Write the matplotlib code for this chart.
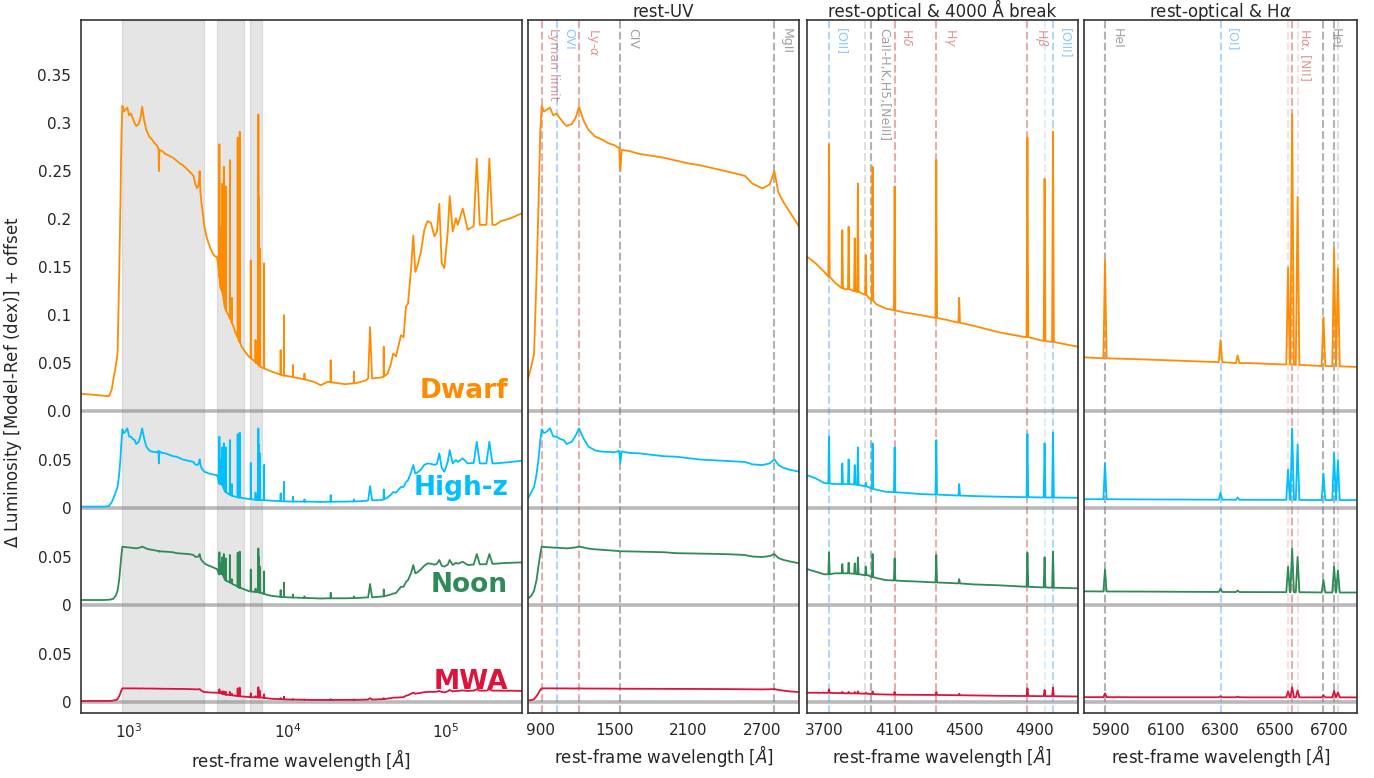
import numpy as np
import matplotlib
matplotlib.use("Agg")
import matplotlib.pyplot as plt
import matplotlib.transforms as mtransforms
import seaborn as sns

sns.set_theme(style="white", context="notebook")
plt.rcParams["font.family"] = ["DejaVu Sans"]
plt.rcParams["xtick.major.size"] = 3.5
plt.rcParams["ytick.major.size"] = 3.5

# ---------------- data ----------------
models = ["Dwarf", "High-z", "Noon", "MWA"]
model_colors = ["darkorange", "deepskyblue", "seagreen", "crimson"]

# continuum sampling wavelengths [Angstrom]
cont_wl = [
    500, 600, 700, 750, 780, 800, 830, 850, 870, 885,
    900, 912, 930, 952, 979, 1006, 1033, 1060, 1090, 1114,
    1155, 1185, 1215, 1250, 1291, 1345, 1400, 1453, 1500, 1540,
    1549, 1560, 1620, 1700, 1800, 1900, 2000, 2100, 2200, 2300,
    2400, 2500, 2560, 2620, 2700, 2760, 2798, 2830, 2870, 2920,
    3000, 3100, 3200, 3300, 3400, 3500, 3600, 3650, 3700, 3760,
    3820, 3900, 3950, 4000, 4050, 4150, 4250, 4400, 4550, 4700,
    4850, 5000, 5150, 5400, 5700, 5800, 6000, 6200, 6400, 6600,
    6800, 7000, 7500, 8000, 8700, 10000, 12000, 14700, 16200, 18000,
    20000, 23000, 27700, 31300, 32300, 33200, 34200, 39000, 42850, 45000,
    46500, 48400, 52000, 54000, 55900, 57600, 60150, 62200, 64000, 66000,
    69300, 73000, 76600, 80400, 84500, 87700, 90750, 93900, 97600, 102500,
    105500, 110200, 115500, 118500, 127500, 137000, 147300, 149500, 156300, 163200,
    170000, 179700, 187600, 196100, 205000, 222400, 257000, 300000,
]

dwarf_cont = [
    0.018, 0.017, 0.016, 0.0155, 0.022, 0.033, 0.048, 0.060, 0.140, 0.210,
    0.290, 0.318, 0.312, 0.314, 0.316, 0.308, 0.310, 0.305, 0.300, 0.297,
    0.299, 0.305, 0.317, 0.303, 0.293, 0.286, 0.283, 0.279, 0.277, 0.274,
    0.250, 0.272, 0.271, 0.268, 0.266, 0.264, 0.261, 0.258, 0.256, 0.253,
    0.250, 0.247, 0.245, 0.237, 0.232, 0.236, 0.250, 0.228, 0.218, 0.208,
    0.192, 0.181, 0.174, 0.168, 0.164, 0.161, 0.161, 0.154, 0.145, 0.134,
    0.127, 0.124, 0.119, 0.111, 0.107, 0.103, 0.100, 0.095, 0.089, 0.082,
    0.077, 0.072, 0.067, 0.062, 0.057, 0.056, 0.054, 0.052, 0.050, 0.048,
    0.046, 0.045, 0.043, 0.041, 0.039, 0.0365, 0.034, 0.0305, 0.027, 0.0305,
    0.0295, 0.028, 0.0295, 0.032, 0.034, 0.0875, 0.034, 0.035, 0.039, 0.0497,
    0.060, 0.057, 0.079, 0.077, 0.109, 0.112, 0.147, 0.183, 0.145, 0.151,
    0.165, 0.189, 0.198, 0.196, 0.182, 0.187, 0.216, 0.154, 0.149, 0.186,
    0.224, 0.187, 0.201, 0.194, 0.211, 0.189, 0.192, 0.193, 0.263, 0.194,
    0.194, 0.194, 0.263, 0.194, 0.194, 0.198, 0.201, 0.206,
]

highz_cont = [
    0.0015, 0.0015, 0.0015, 0.002, 0.006, 0.010, 0.017, 0.022, 0.035, 0.050,
    0.070, 0.082, 0.078, 0.0795, 0.083, 0.0745, 0.0743, 0.072, 0.0708, 0.0667,
    0.069, 0.075, 0.083, 0.0726, 0.064, 0.060, 0.0587, 0.0585, 0.058, 0.0595,
    0.0465, 0.059, 0.0575, 0.057, 0.0555, 0.054, 0.0535, 0.052, 0.0505, 0.0498,
    0.049, 0.0485, 0.048, 0.0455, 0.0448, 0.0465, 0.0507, 0.045, 0.042, 0.040,
    0.0378, 0.037, 0.036, 0.0355, 0.035, 0.0345, 0.0344, 0.031, 0.026, 0.025,
    0.025, 0.024, 0.022, 0.019, 0.017, 0.016, 0.0146, 0.0135, 0.0125, 0.0118,
    0.0113, 0.011, 0.0107, 0.0100, 0.0095, 0.0092, 0.009, 0.0088, 0.0086, 0.0084,
    0.0083, 0.0082, 0.008, 0.0076, 0.0072, 0.0068, 0.0067, 0.0066, 0.0064, 0.0066,
    0.0066, 0.0067, 0.007, 0.0075, 0.008, 0.0229, 0.008, 0.0083, 0.011, 0.014,
    0.0167, 0.016, 0.022, 0.022, 0.027, 0.029, 0.037, 0.0448, 0.036, 0.037,
    0.040, 0.045, 0.0465, 0.046, 0.045, 0.046, 0.057, 0.042, 0.0378, 0.048,
    0.0604, 0.0465, 0.050, 0.048, 0.0517, 0.0465, 0.047, 0.047, 0.069, 0.0465,
    0.0465, 0.0465, 0.069, 0.0465, 0.0465, 0.047, 0.048, 0.0493,
]

noon_cont = [
    0.0052, 0.0052, 0.0052, 0.0055, 0.006, 0.0065, 0.010, 0.015, 0.026, 0.040,
    0.053, 0.0608, 0.0605, 0.0603, 0.060, 0.0598, 0.0597, 0.0595, 0.0592, 0.059,
    0.0595, 0.060, 0.0608, 0.060, 0.0588, 0.058, 0.0575, 0.057, 0.0565, 0.0562,
    0.0555, 0.056, 0.0558, 0.0556, 0.0553, 0.055, 0.054, 0.0538, 0.0535, 0.0533,
    0.053, 0.0525, 0.052, 0.0505, 0.050, 0.051, 0.0531, 0.049, 0.047, 0.0455,
    0.0434, 0.042, 0.041, 0.040, 0.039, 0.0383, 0.0375, 0.0347, 0.032, 0.033,
    0.033, 0.032, 0.031, 0.028, 0.026, 0.025, 0.0243, 0.023, 0.0215, 0.0205,
    0.019, 0.018, 0.0174, 0.016, 0.0145, 0.0142, 0.014, 0.0137, 0.0135, 0.0133,
    0.013, 0.012, 0.0104, 0.0095, 0.0088, 0.008, 0.0075, 0.007, 0.0068, 0.007,
    0.007, 0.007, 0.0073, 0.0078, 0.008, 0.0219, 0.008, 0.0087, 0.010, 0.011,
    0.012, 0.0125, 0.019, 0.019, 0.024, 0.026, 0.033, 0.0417, 0.033, 0.034,
    0.037, 0.041, 0.0434, 0.043, 0.042, 0.043, 0.0469, 0.041, 0.040, 0.042,
    0.0469, 0.0417, 0.044, 0.043, 0.045, 0.0417, 0.042, 0.0422, 0.0531, 0.0424,
    0.0424, 0.0425, 0.0531, 0.043, 0.043, 0.0435, 0.044, 0.0444,
]

mwa_cont = [
    0.001, 0.001, 0.001, 0.001, 0.0012, 0.0015, 0.002, 0.003, 0.006, 0.009,
    0.0125, 0.0142, 0.0142, 0.0142, 0.0142, 0.0142, 0.0142, 0.0142, 0.0141, 0.0141,
    0.014, 0.014, 0.0142, 0.014, 0.014, 0.014, 0.0139, 0.0139, 0.0139, 0.0138,
    0.0138, 0.0138, 0.0138, 0.0137, 0.0137, 0.0136, 0.0136, 0.0136, 0.0135, 0.0135,
    0.0134, 0.0133, 0.0133, 0.0132, 0.0131, 0.0132, 0.0135, 0.0125, 0.0118, 0.011,
    0.0103, 0.0101, 0.0099, 0.0098, 0.0097, 0.0097, 0.0097, 0.0096, 0.0095, 0.0093,
    0.009, 0.0088, 0.0085, 0.008, 0.0078, 0.0075, 0.0074, 0.0072, 0.0068, 0.0064,
    0.0062, 0.006, 0.0057, 0.0055, 0.0051, 0.005, 0.0049, 0.0049, 0.0048, 0.0048,
    0.0048, 0.0045, 0.0038, 0.0033, 0.003, 0.0026, 0.0024, 0.0021, 0.0021, 0.0021,
    0.0021, 0.0021, 0.0022, 0.0024, 0.0025, 0.004, 0.0025, 0.0028, 0.0035, 0.004,
    0.0045, 0.0045, 0.0049, 0.005, 0.0065, 0.007, 0.0085, 0.0097, 0.0085, 0.009,
    0.0095, 0.0102, 0.0105, 0.0105, 0.0105, 0.0108, 0.0115, 0.0105, 0.010, 0.011,
    0.0125, 0.011, 0.0115, 0.0115, 0.012, 0.0115, 0.0117, 0.0118, 0.0132, 0.0118,
    0.0118, 0.0118, 0.0132, 0.0118, 0.0118, 0.0118, 0.0117, 0.0115,
]

# narrow emission lines: wavelength, continuum level under the line, peak level
line_wl = [3727, 3803, 3839, 3874, 3892, 3937, 3976, 4102, 4340, 4471,
           4861, 4959, 5007, 5876, 6300, 6363, 6548, 6563, 6583, 6678,
           6717, 6731, 7136, 9069, 9532, 10830, 12818, 18751, 26252, 40512]

dwarf_line_base = [0.140, 0.128, 0.127, 0.125, 0.124, 0.121, 0.115, 0.105, 0.097, 0.092,
                   0.077, 0.073, 0.072, 0.055, 0.051, 0.050, 0.0485, 0.0483, 0.0481, 0.047,
                   0.0468, 0.0466, 0.0445, 0.038, 0.037, 0.0355, 0.033, 0.030, 0.029, 0.036]
dwarf_line_peak = [0.278, 0.1885, 0.192, 0.180, 0.237, 0.1625, 0.2545, 0.234, 0.2615, 0.118,
                   0.285, 0.242, 0.291, 0.157, 0.074, 0.058, 0.150, 0.309, 0.223, 0.098,
                   0.1695, 0.1486, 0.154, 0.0635, 0.100, 0.048, 0.039, 0.053, 0.041, 0.067]

highz_line_base = [0.0255, 0.025, 0.025, 0.0245, 0.024, 0.0225, 0.020, 0.0165, 0.014, 0.013,
                   0.0113, 0.011, 0.011, 0.0092, 0.0087, 0.0086, 0.0085, 0.0085, 0.0084, 0.0083,
                   0.0083, 0.0083, 0.0082, 0.0071, 0.0070, 0.0068, 0.0067, 0.0066, 0.0069, 0.009]
highz_line_peak = [0.0743, 0.0465, 0.0507, 0.0448, 0.0632, 0.0264, 0.0674, 0.0632, 0.0708, 0.025,
                   0.0771, 0.0674, 0.0785, 0.047, 0.016, 0.011, 0.040, 0.083, 0.066, 0.036,
                   0.057, 0.050, 0.045, 0.0153, 0.0274, 0.0118, 0.009, 0.0135, 0.009, 0.0194]

noon_line_base = [0.032, 0.033, 0.033, 0.0325, 0.032, 0.031, 0.029, 0.0255, 0.0235, 0.0225,
                  0.019, 0.0183, 0.018, 0.0141, 0.0136, 0.0135, 0.0134, 0.0133, 0.0133, 0.0131,
                  0.013, 0.013, 0.0116, 0.0085, 0.0083, 0.0078, 0.0074, 0.007, 0.0072, 0.009]
noon_line_peak = [0.0549, 0.0427, 0.0441, 0.0434, 0.0497, 0.040, 0.0531, 0.0486, 0.0521, 0.027,
                  0.0545, 0.0497, 0.0556, 0.037, 0.017, 0.015, 0.040, 0.059, 0.050, 0.026,
                  0.040, 0.036, 0.035, 0.0156, 0.0233, 0.011, 0.009, 0.0128, 0.009, 0.0163]

mwa_line_base = [0.0095, 0.0092, 0.009, 0.0089, 0.0088, 0.0086, 0.0083, 0.0076, 0.0073, 0.007,
                 0.0062, 0.006, 0.006, 0.005, 0.0049, 0.0049, 0.0048, 0.0048, 0.0048, 0.0048,
                 0.0048, 0.0048, 0.0043, 0.003, 0.0028, 0.0025, 0.0023, 0.0021, 0.0022, 0.003]
mwa_line_peak = [0.0132, 0.0105, 0.0105, 0.0103, 0.011, 0.0098, 0.011, 0.0105, 0.0105, 0.0085,
                 0.0142, 0.0125, 0.0149, 0.009, 0.006, 0.0055, 0.011, 0.0153, 0.012, 0.007,
                 0.0115, 0.010, 0.008, 0.004, 0.0055, 0.003, 0.0025, 0.003, 0.0025, 0.004]

# marked spectral features in the zoom panels
uv_mark_wl = [912, 1033, 1216, 1549, 2798]
uv_mark_label = ["Lyman limit", "OVI", r"Ly-$\alpha$", "CIV", "MgII"]
uv_mark_kind = ["red", "blue", "red", "gray", "gray"]

opt_mark_wl = [3727, 3934, 3969, 4102, 4340, 4861, 4959, 5007]
opt_mark_label = ["[OII]", "", "CaII-H,K,H5,[NeIII]", r"H$\delta$", r"H$\gamma$",
                  r"H$\beta$", "", "[OIII]"]
opt_mark_kind = ["blue", "gray_faint", "gray", "red", "red", "red", "blue_faint", "blue"]

ha_mark_wl = [5876, 6300, 6548, 6563, 6583, 6678, 6717, 6731]
ha_mark_label = ["HeI", "[OI]", "", r"H$\alpha$, [NII]", "", "HeI", "", "[SII]"]
ha_mark_kind = ["gray", "blue", "red_faint", "red", "red_faint", "gray", "gray", "gray_faint"]

# wavelength windows shown in the zoom panels (shaded in the first panel)
shade_lo = [912, 3600, 5800]
shade_hi = [3000, 5300, 6900]

panel_titles = ["", "rest-UV", "rest-optical & 4000 Å break", r"rest-optical & H$\alpha$"]
panel_xlims = [(500, 3e5), (800, 3000), (3600, 5150), (5800, 6800)]
panel_xticks = [[1e3, 1e4, 1e5], [900, 1500, 2100, 2700], [3700, 4100, 4500, 4900],
                [5900, 6100, 6300, 6500, 6700]]

# ---------------- styling / layout ----------------
ROW_OFFSETS = [0.303, 0.202, 0.101, 0.0]
LINE_HW = 0.001          # half width of the narrow-line profile (fraction of wavelength)
KIND_STYLE = {
    "red": ("#CD5C5C", 0.5, 0.65),
    "blue": ("#1E90FF", 0.35, 0.5),
    "gray": ("gray", 0.6, 0.75),
    "red_faint": ("#CD5C5C", 0.18, 0.0),
    "blue_faint": ("#1E90FF", 0.15, 0.0),
    "gray_faint": ("gray", 0.25, 0.0),
}

conts = [dwarf_cont, highz_cont, noon_cont, mwa_cont]
bases = [dwarf_line_base, highz_line_base, noon_line_base, mwa_line_base]
peaks = [dwarf_line_peak, highz_line_peak, noon_line_peak, mwa_line_peak]


def build_spectrum(cont, base, peak):
    wl = list(cont_wl)
    fl = list(cont)
    for w, b, p in zip(line_wl, base, peak):
        hw = w * LINE_HW
        wl += [w - hw, w, w + hw]
        fl += [b, p, b]
    order = np.argsort(wl, kind="stable")
    return np.asarray(wl, float)[order], np.asarray(fl, float)[order]


spectra = [build_spectrum(c, b, p) for c, b, p in zip(conts, bases, peaks)]

fig = plt.figure(figsize=(13.74, 7.78), dpi=100)
W, H = 1374.0, 778.0
ax_px = [(81, 521.7), (527.9, 799.3), (806.8, 1078.0), (1084.3, 1356.7)]
top_px, bot_px = 20.0, 713.0
axes = []
for (x0, x1) in ax_px:
    axes.append(fig.add_axes([x0 / W, (H - bot_px) / H, (x1 - x0) / W, (bot_px - top_px) / H]))

ylim = (-0.0115, 0.7104)
marks = [None,
         (uv_mark_wl, uv_mark_label, uv_mark_kind),
         (opt_mark_wl, opt_mark_label, opt_mark_kind),
         (ha_mark_wl, ha_mark_label, ha_mark_kind)]

for i, ax in enumerate(axes):
    if i == 0:
        ax.set_xscale("log")
        for lo, hi in zip(shade_lo, shade_hi):
            ax.axvspan(lo, hi, color="gray", alpha=0.2, zorder=0)
    else:
        mw, ml, mk = marks[i]
        for w, lab, kind in zip(mw, ml, mk):
            col, la, ta = KIND_STYLE[kind]
            ax.axvline(w, color=col, ls="--", lw=1.5, alpha=la, zorder=0.5)
            if lab:
                ax.annotate(lab, xy=(w, 0.988), xycoords=("data", "axes fraction"),
                            xytext=(4.0, 0), textcoords="offset points",
                            rotation=-90, ha="left", va="top", fontsize=9,
                            color=col, alpha=ta)
    for off in ROW_OFFSETS:
        ax.axhline(off, color="gray", lw=2.6, alpha=0.55, zorder=1)
    for (wl, fl), off, c in zip(spectra, ROW_OFFSETS, model_colors):
        ax.plot(wl, fl + off, color=c, lw=1.3, zorder=2)
    ax.set_xlim(*panel_xlims[i])
    ax.set_ylim(*ylim)
    ax.set_xticks(panel_xticks[i])
    if i > 0:
        ax.set_xticklabels([str(t) for t in panel_xticks[i]])
        ax.set_yticks([])
    ax.xaxis.set_minor_locator(matplotlib.ticker.NullLocator())
    ax.set_xlabel(r"rest-frame wavelength [$\AA$]", fontsize=12)
    if panel_titles[i]:
        ax.set_title(panel_titles[i], fontsize=12, pad=2.5)
    for sp in ax.spines.values():
        sp.set_color("0.2")
        sp.set_linewidth(1.2)

ax1 = axes[0]
ytick_pos, ytick_lab = [], []
dwarf_ticks = [0.0, 0.05, 0.1, 0.15, 0.2, 0.25, 0.3, 0.35]
dwarf_tick_labels = ["0.0", "0.05", "0.1", "0.15", "0.2", "0.25", "0.3", "0.35"]
for v, l in zip(dwarf_ticks, dwarf_tick_labels):
    ytick_pos.append(ROW_OFFSETS[0] + v)
    ytick_lab.append(l)
for off in ROW_OFFSETS[1:]:
    ytick_pos += [off, off + 0.05]
    ytick_lab += ["0", "0.05"]
ax1.set_yticks(ytick_pos)
ax1.set_yticklabels(ytick_lab)
ax1.set_ylabel(r"$\Delta$ Luminosity [Model-Ref (dex)] + offset", fontsize=12)
ax1.yaxis.set_label_coords(-0.13, 0.478)

trans = mtransforms.blended_transform_factory(ax1.transAxes, ax1.transData)
for name, c, off in zip(models, model_colors, ROW_OFFSETS):
    ax1.text(0.969, off + 0.014, name, transform=trans, ha="right", va="baseline",
             fontsize=19, fontweight="bold", color=c, zorder=5)

fig.savefig("out.png", dpi=100)
